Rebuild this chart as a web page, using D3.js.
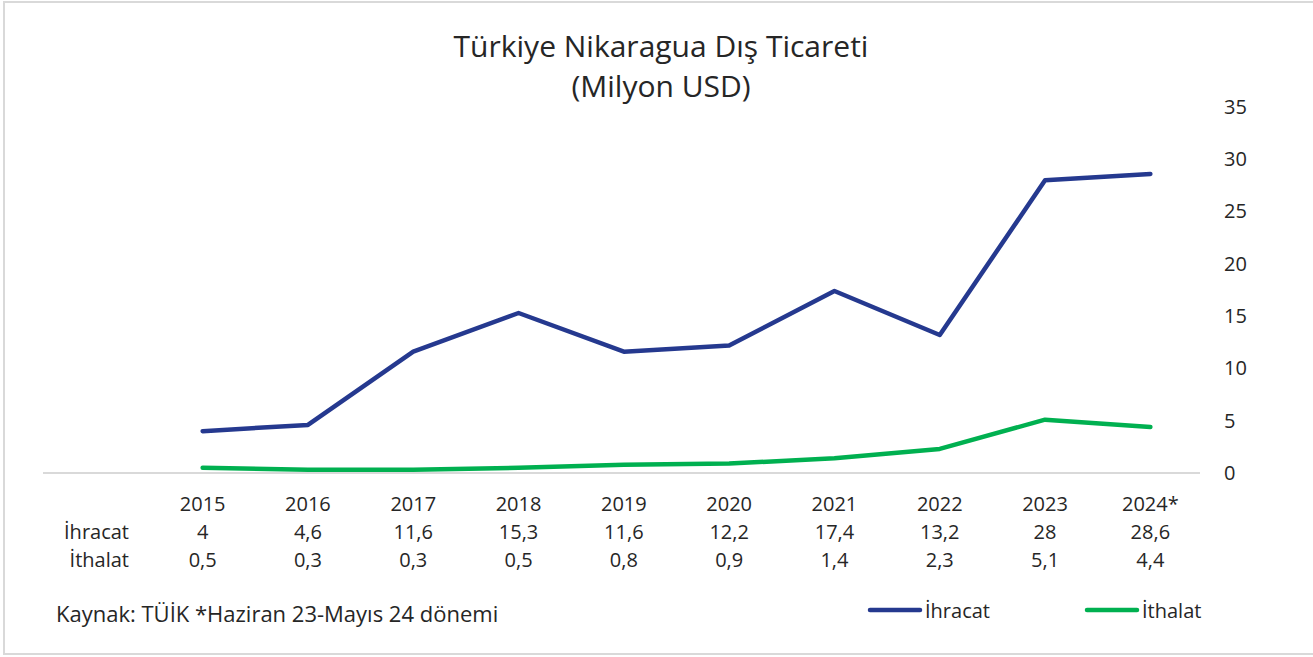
<!DOCTYPE html>
<html>
<head>
<meta charset="utf-8">
<script src="https://cdn.jsdelivr.net/npm/d3@7"></script>
<style>
  body { margin: 0; background: #fff; }
  svg text { font-family: "Open Sans", "Noto Sans", sans-serif; fill: #262626; }
</style>
</head>
<body>
<svg width="1313" height="657"></svg>
<script>
var years = ["2015", "2016", "2017", "2018", "2019", "2020", "2021", "2022", "2023", "2024*"];
var ihracat = [4, 4.6, 11.6, 15.3, 11.6, 12.2, 17.4, 13.2, 28, 28.6];
var ithalat = [0.5, 0.3, 0.3, 0.5, 0.8, 0.9, 1.4, 2.3, 5.1, 4.4];
var yTicks = [0, 5, 10, 15, 20, 25, 30, 35];
var seriesNames = ["İhracat", "İthalat"];
var seriesColors = ["#25398f", "#00b050"];

var svg = d3.select("svg"),
    width = +svg.attr("width"),
    height = +svg.attr("height");

// chart frame
svg.append("rect")
    .attr("x", 4).attr("y", 2)
    .attr("width", width + 10).attr("height", 652)
    .attr("fill", "none")
    .attr("stroke", "#d9d9d9")
    .attr("stroke-width", 2);

// title
svg.append("text")
    .attr("x", 661).attr("y", 57)
    .attr("text-anchor", "middle")
    .style("font-size", "30px")
    .text("Türkiye Nikaragua Dış Ticareti");
svg.append("text")
    .attr("x", 661).attr("y", 97)
    .attr("text-anchor", "middle")
    .style("font-size", "30px")
    .text("(Milyon USD)");

var x = d3.scaleBand().domain(years).range([150, 1203]);
var y = d3.scaleLinear().domain([0, 35]).range([473, 107]);

function cx(d) { return x(d) + x.bandwidth() / 2; }

// baseline at zero
svg.append("line")
    .attr("x1", 43).attr("x2", 1200)
    .attr("y1", y(0)).attr("y2", y(0))
    .attr("stroke", "#d9d9d9")
    .attr("stroke-width", 2);

// right value axis
var yAxis = svg.append("g")
    .attr("transform", "translate(1218,0)")
    .call(d3.axisRight(y).tickValues(yTicks).tickSize(0).tickPadding(6));
yAxis.select(".domain").remove();
yAxis.selectAll("text")
    .style("font-size", "20px")
    .style("font-family", "\"Open Sans\", \"Noto Sans\", sans-serif")
    .attr("fill", "#404040");

// lines
var line = d3.line()
    .x(function(d) { return cx(d.year); })
    .y(function(d) { return y(d.value); });

[ihracat, ithalat].forEach(function(vals, i) {
    var pts = years.map(function(yr, j) { return { year: yr, value: vals[j] }; });
    svg.append("path")
        .datum(pts)
        .attr("d", line)
        .attr("fill", "none")
        .attr("stroke", seriesColors[i])
        .attr("stroke-width", 4.5)
        .attr("stroke-linecap", "round")
        .attr("stroke-linejoin", "round");
});

// data table
var fmt = function(v) { return String(v).replace(".", ","); };
var table = svg.append("g").style("font-size", "20px");

table.selectAll(".yr")
    .data(years)
    .enter().append("text")
    .attr("class", "yr")
    .attr("x", cx).attr("y", 511)
    .attr("text-anchor", "middle")
    .text(function(d) { return d; });

[ihracat, ithalat].forEach(function(vals, i) {
    var rowY = 539 + i * 28;
    table.append("text")
        .attr("x", 129).attr("y", rowY)
        .attr("text-anchor", "end")
        .text(seriesNames[i]);
    table.selectAll(".v" + i)
        .data(vals)
        .enter().append("text")
        .attr("class", "v" + i)
        .attr("x", function(d, j) { return cx(years[j]); })
        .attr("y", rowY)
        .attr("text-anchor", "middle")
        .text(fmt);
});

// source note
svg.append("text")
    .attr("x", 56).attr("y", 622)
    .style("font-size", "22px")
    .text("Kaynak: TÜİK *Haziran 23-Mayıs 24 dönemi");

// legend
var legendX = [868, 1085];
var legend = svg.selectAll(".legend")
    .data(seriesNames)
    .enter().append("g")
    .attr("class", "legend")
    .attr("transform", function(d, i) { return "translate(" + legendX[i] + ",610)"; });
legend.append("line")
    .attr("x1", 2).attr("x2", 52)
    .attr("stroke", function(d, i) { return seriesColors[i]; })
    .attr("stroke-width", 4.5)
    .attr("stroke-linecap", "round");
legend.append("text")
    .attr("x", 57).attr("y", 8)
    .style("font-size", "20px")
    .text(function(d) { return d; });
</script>
</body>
</html>
